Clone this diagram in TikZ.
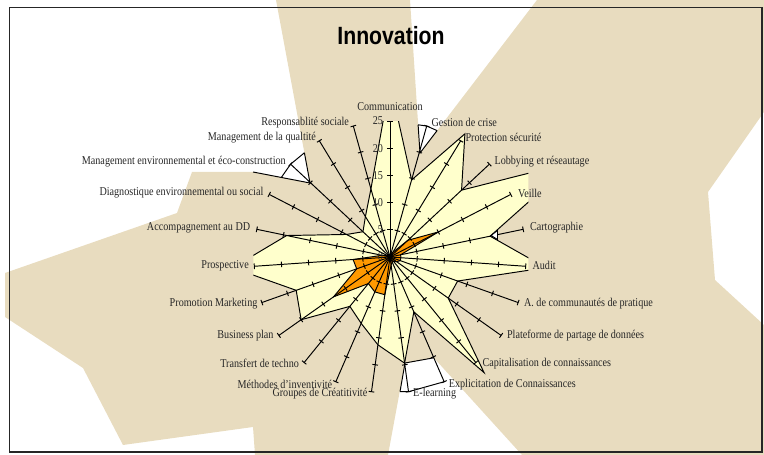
\documentclass[tikz,border=0pt]{standalone}
\usepackage{fontspec}
\setmainfont{Liberation Serif}
\newfontfamily\titlefont{Liberation Sans}
\usepackage{tikz}
\usetikzlibrary{calc}
\definecolor{papyrus}{RGB}{232,220,191}
\definecolor{chartyellow}{RGB}{255,255,204}
\definecolor{chartorange}{RGB}{255,153,0}
\newcommand{\rscale}{5.44}
\tikzset{
  lab/.style={font=\fontsize{6.8}{8}\selectfont,xscale=0.85,inner sep=0.5pt,text=black!85},
  spoke/.style={line width=0.55pt},
  serie/.style={line width=0.55pt,draw=black}
}
\begin{document}
\begin{tikzpicture}[x=0.02cm,y=0.02cm]
\useasboundingbox (0,0) rectangle (764,455);
\coordinate (c) at (390,198);
% background
\fill[papyrus](276,455)--(410,455)--(420,302)--(537,455)--(764,455)--(764,343)--(708,263)--(715,175)--(764,130)--(764,0)--(522,0)--(433.8,97.2)--(405,92)--(388,0)--(255,0)--(253,28)--(123,10)--(83,87)--(5,138)--(5,182)--(177,242)--(192,283)--(253,283)--(310,272)--cycle;
% series
\begin{scope}
\clip (253.3,55) rectangle (528.3,333.5);
\draw[serie,fill=chartyellow] ($(c)+(90:{32*\rscale})$)
  \foreach \v [count=\i] in {14.7,26.5,18,38,18.8,28.7,13.2,13.1,27.4,11,19.7,16.3,13.3,11.7,20,18.3,29,19.4,9,6.8,8.7,13}
  { -- ($(c)+({90-\i*360/23}:{\v*\rscale})$) } -- cycle;
\end{scope}
\draw[serie,fill=chartorange] ($(c)+(90:{0.5*\rscale})$)
  \foreach \v [count=\i] in {0.5,1,4.5,10,2,2,2,1.5,1,1,1.5,7,7,6.3,12.7,6.5,6.8,1.5,0.5,0.5,0.5,0.5}
  { -- ($(c)+({90-\i*360/23}:{\v*\rscale})$) } -- cycle;
% axes
\foreach \i in {0,...,22}{
  \pgfmathsetmacro\ang{90-\i*360/23}
  \coordinate (e\i) at ($(c)+(\ang:{25*\rscale})$);
  \draw[spoke] (c)--(e\i);
  \foreach \t in {5,10,15,20,25}
    \draw[spoke] ($(c)+(\ang:{\t*\rscale})+(\ang+90:2.8)$)--($(c)+(\ang:{\t*\rscale})+(\ang-90:2.8)$);
}
% white gaps
\draw[spoke](418.1,330.2)--(420,302)--(437.1,324.4)(418.1,330.2)--(e1)--(437.1,324.4);
\draw[spoke](253,283)--(310,272)--(304.4,302.2)(281.3,277.5)--(e20)--(304.4,302.2);
\draw[spoke](400,63.3)--(405,92)--(433.8,97.2)(400,63.3)--(e11)--(e10);
\draw[spoke,fill=white](491,219.5)--(497.5,224.5)--(497.5,215.5)--cycle;
% scale
\node (s0) at (384,198) [lab,left]{0};
\node (s5) at (384,225.2) [lab,left]{5};
\node (s10) at (384,252.4) [lab,left]{10};
\node (s15) at (384,279.6) [lab,left]{15};
\node (s20) at (384,306.8) [lab,left]{20};
\node (s25) at (384,334) [lab,left]{25};
% labels
\node (communication) at (390,348) [lab]{Communication};
\node (gestion) at (430.5,332.7) [lab,right]{Gestion de crise};
\node (protection) at (464.5,317.8) [lab,right]{Protection sécurité};
\node (lobbying) at (493.5,293.5) [lab,right]{Lobbying et réseautage};
\node (veille) at (517,262) [lab,right]{Veille};
\node (cartographie) at (529,227) [lab,right]{Cartographie};
\node (audit) at (531.5,189.2) [lab,right]{Audit};
\node (communautes) at (523,151.7) [lab,right]{A. de communautés de pratique};
\node (plateforme) at (506,119.5) [lab,right]{Plateforme de partage de données};
\node (capitalisation) at (481.5,91.5) [lab,right]{Capitalisation de connaissances};
\node (explicitation) at (447.8,70.6) [lab,right]{Explicitation de Connaissances};
\node (elearning) at (412.2,61) [lab,right]{E-learning};
\node (groupes) at (368.3,61.6) [lab,left]{Groupes de Créatitivité};
\node (methodes) at (333.2,70.6) [lab,left]{Méthodes d'inventivité};
\node (transfert) at (300,91.5) [lab,left]{Transfert de techno};
\node (business) at (274.6,119.5) [lab,left]{Business plan};
\node (promotion) at (258.5,151.7) [lab,left]{Promotion Marketing};
\node (prospective) at (249.8,189.2) [lab,left]{Prospective};
\node (accompagnement) at (251.2,227) [lab,left]{Accompagnement au DD};
\node (diagnostique) at (264.4,262) [lab,left]{Diagnostique environnemental ou social};
\node (mgtenv) at (286.8,293.5) [lab,left]{Management environnemental et éco-construction};
\node (mgtqual) at (317,317.8) [lab,left]{Management de la qualtité};
\node (responsabilite) at (350,332.7) [lab,left]{Responsablité sociale};
\node (title) at (391,419) [font=\titlefont\bfseries\fontsize{14.2}{16}\selectfont,xscale=0.85]{Innovation};
% frame
\draw[line width=0.9pt,black!85](9.5,3) rectangle (762,447.5);
\end{tikzpicture}
\end{document}
